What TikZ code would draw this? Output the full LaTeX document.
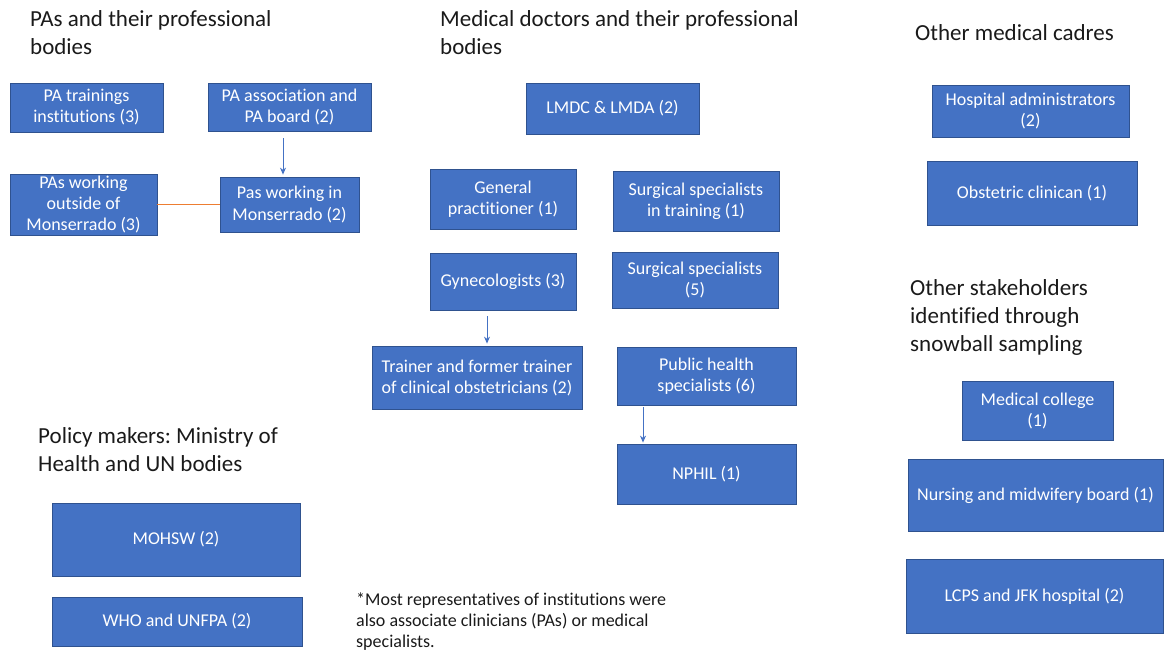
\documentclass[tikz,border=0pt]{standalone}
\usepackage{fontspec}
\setmainfont{Carlito}[Ligatures=NoCommon]
\usetikzlibrary{arrows.meta}
\definecolor{boxfill}{HTML}{4472C4}
\definecolor{boxline}{HTML}{2F528F}
\definecolor{linkorange}{HTML}{ED7D31}
\definecolor{inktext}{HTML}{1A1A1A}
\frenchspacing

\tikzset{
  box/.style={draw=boxline,line width=0.8pt,fill=boxfill,text=white,align=center,
    inner sep=2pt,font=\fontsize{18}{21}\selectfont},
  head/.style={anchor=base west,align=left,inner sep=0pt,text=inktext,
    font=\fontsize{23}{28}\selectfont},
  arr/.style={draw=boxfill,line width=0.9pt,-{Stealth[length=7pt,width=6pt]}},
  link/.style={draw=linkorange,line width=1.3pt}
}

\begin{document}
\begin{tikzpicture}[x=1pt,y=-1pt]
\useasboundingbox (0,0) rectangle (1164,652);

% headings (base = last line)
\node[head] (hpa) at (30,55) {PAs and their professional\\bodies};
\node[head] (hmd) at (440,55) {Medical doctors and their professional\\bodies};
\node[head] (hcad) at (915,41) {Other medical cadres};
\node[head] (hsnow) at (910,351) {Other stakeholders\\identified through\\snowball sampling};
\node[head] (hpol) at (38,471) {Policy makers: Ministry of\\Health and UN bodies};

% PAs
\node[box,minimum width=153pt,minimum height=49pt] (patrain) at (86.5,107.5) {PA trainings\\institutions (3)};
\node[box,minimum width=163pt,minimum height=48pt] (paboard) at (289.5,107) {PA association and\\PA board (2)};
\node[box,minimum width=147pt,minimum height=61pt] (paout) at (83.5,204.5) {PAs working\\outside of\\Monserrado (3)};
\node[box,minimum width=139pt,minimum height=55pt] (pasin) at (289.5,204.5) {Pas working in\\Monserrado (2)};

% medical doctors
\node[box,minimum width=173pt,minimum height=51pt] (lmdc) at (612.5,108.5) {LMDC \& LMDA (2)};
\node[box,minimum width=146pt,minimum height=60pt] (genprac) at (503,199) {General\\practitioner (1)};
\node[box,minimum width=166pt,minimum height=60pt] (surgtrain) at (696,201) {Surgical specialists\\in training (1)};
\node[box,minimum width=146pt,minimum height=57pt] (gyn) at (503,281.5) {Gynecologists (3)};
\node[box,minimum width=166pt,minimum height=56pt] (surg) at (695,280) {Surgical specialists\\(5)};
\node[box,minimum width=210pt,minimum height=63pt] (trainer) at (477,377.5) {Trainer and former trainer\\of clinical obstetricians (2)};
\node[box,minimum width=179pt,minimum height=58pt] (pubhealth) at (706.5,376) {Public health\\specialists (6)};
\node[box,minimum width=179pt,minimum height=60pt] (nphil) at (706.5,474) {NPHIL (1)};

% other cadres and stakeholders
\node[box,minimum width=197pt,minimum height=52pt] (hospadmin) at (1030.5,111) {Hospital administrators\\(2)};
\node[box,minimum width=210pt,minimum height=64pt] (obst) at (1032,193) {Obstetric clinican (1)};
\node[box,minimum width=151pt,minimum height=59pt] (medcol) at (1037.5,410.5) {Medical college\\(1)};
\node[box,minimum width=255pt,minimum height=72pt] (nursing) at (1035.5,495) {Nursing and midwifery board (1)};
\node[box,minimum width=257pt,minimum height=74pt] (lcps) at (1034.5,596) {LCPS and JFK hospital (2)};

% policy makers
\node[box,minimum width=248pt,minimum height=73pt] (mohsw) at (176,539.5) {MOHSW (2)};
\node[box,minimum width=250pt,minimum height=49pt] (who) at (177,621.5) {WHO and UNFPA (2)};

\node[anchor=base west,align=left,inner sep=0pt,text=inktext,font=\fontsize{18}{21}\selectfont] (note) at (356,647.5)
  {*Most representatives of institutions were\\also associate clinicians (PAs) or medical\\specialists.};

% connectors
\draw[link] (paout) -- (pasin);
\draw[arr,shorten <=7pt,shorten >=2pt] ([xshift=-6.5pt]paboard.south) -- ([xshift=-6.5pt]pasin.north);
\draw[arr,shorten <=6pt,shorten >=2pt] ([xshift=-16pt]gyn.south) -- ([xshift=10pt]trainer.north);
\draw[arr,shorten <=2pt,shorten >=1pt] ([xshift=-63.5pt]pubhealth.south) -- ([xshift=-63.5pt]nphil.north);
\end{tikzpicture}
\end{document}
